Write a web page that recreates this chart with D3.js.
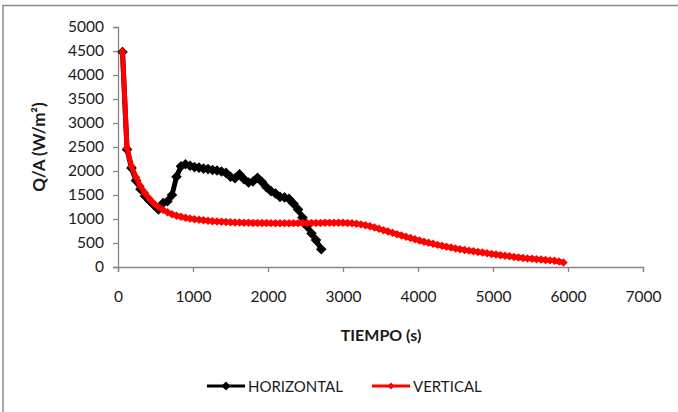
<!DOCTYPE html>
<html>
<head>
<meta charset="utf-8">
<script src="https://cdn.jsdelivr.net/npm/d3@7"></script>
<style>
  body { margin: 0; background: #fff; }
  svg text { font-family: Lato, "Open Sans", sans-serif; fill: #1a1a1a; }
</style>
</head>
<body>
<div id="chart"></div>
<script>
// HORIZONTAL series (time in s, Q/A in W/m2)
const timeH = [60, 120, 180, 240, 300, 360, 420, 480, 540, 600, 660, 720, 780, 840, 900, 960,
  1020, 1080, 1140, 1200, 1260, 1320, 1380, 1440, 1500, 1560, 1620, 1680, 1740, 1800, 1860,
  1920, 1980, 2040, 2100, 2160, 2220, 2280, 2340, 2400, 2460, 2520, 2580, 2640, 2710];
const qaH = [4480, 2450, 2060, 1800, 1620, 1480, 1380, 1290, 1200, 1330, 1370, 1500, 1880, 2100,
  2140, 2110, 2080, 2070, 2050, 2040, 2020, 2010, 1990, 1960, 1880, 1850, 1930, 1830, 1760, 1780,
  1860, 1770, 1660, 1580, 1530, 1460, 1450, 1420, 1320, 1200, 1030, 850, 700, 560, 370];

// VERTICAL series
const timeV = [60, 120, 180, 240, 300, 360, 420, 480, 540, 600, 660, 720, 780, 840, 900, 960,
  1020, 1080, 1140, 1200, 1260, 1320, 1380, 1440, 1500, 1560, 1620, 1680, 1740, 1800, 1860,
  1920, 1980, 2040, 2100, 2160, 2220, 2280, 2340, 2400, 2460, 2520, 2580, 2640, 2700, 2760,
  2820, 2880, 2940, 3000, 3060, 3120, 3180, 3240, 3300, 3360, 3420, 3480, 3540, 3600, 3660,
  3720, 3780, 3840, 3900, 3960, 4020, 4080, 4140, 4200, 4260, 4320, 4380, 4440, 4500, 4560,
  4620, 4680, 4740, 4800, 4860, 4920, 4980, 5040, 5100, 5160, 5220, 5280, 5340, 5400, 5460,
  5520, 5580, 5640, 5700, 5760, 5820, 5880, 5940];
const qaV = [4480, 2480, 2100, 1870, 1680, 1540, 1420, 1320, 1250, 1190, 1140, 1100, 1070, 1045,
  1025, 1008, 995, 983, 972, 963, 955, 948, 942, 937, 933, 929, 926, 923, 921, 919, 917,
  916, 915, 914, 913, 913, 913, 913, 914, 914, 915, 916, 917, 918, 919, 920,
  921, 922, 922, 921, 918, 912, 902, 888, 870, 848, 823, 796, 768, 740, 712,
  684, 656, 629, 602, 576, 551, 527, 504, 482, 461, 441, 422, 404, 387, 371,
  356, 341, 327, 314, 301, 288, 272, 259, 246, 234, 222, 210, 198, 188, 178,
  170, 162, 154, 146, 138, 128, 115, 95];

const yTicks = d3.range(0, 5001, 500);
const xTicks = d3.range(0, 7001, 1000);

const width = 678, height = 412;
const svg = d3.select("#chart").append("svg")
  .attr("width", width)
  .attr("height", height);

svg.append("rect")
  .attr("x", 3).attr("y", 5.5)
  .attr("width", 720).attr("height", 480)
  .attr("fill", "#fff")
  .attr("stroke", "#8c8c8c")
  .attr("stroke-width", 1.5);

const x = d3.scaleLinear().domain([0, 7000]).range([118, 643]);
const y = d3.scaleLinear().domain([0, 5000]).range([267, 27]);

const axisColor = "#868686";

const gy = svg.append("g")
  .attr("transform", `translate(${x(0)},0)`)
  .call(d3.axisLeft(y).tickValues(yTicks).tickSize(5).tickPadding(9).tickFormat(d3.format("d")));
const gx = svg.append("g")
  .attr("transform", `translate(0,${y(0)})`)
  .call(d3.axisBottom(x).tickValues(xTicks).tickSize(5).tickPadding(19).tickFormat(d3.format("d")));

[gy, gx].forEach(g => {
  g.select(".domain").attr("stroke", axisColor).attr("stroke-width", 1.3);
  g.selectAll(".tick line").attr("stroke", axisColor).attr("stroke-width", 1.3);
  g.selectAll(".tick text").style("font-size", "15.5px").attr("fill", "#1a1a1a");
});

// axis titles
svg.append("text")
  .attr("transform", `translate(45,${(y(0) + y(5000)) / 2}) rotate(-90)`)
  .attr("text-anchor", "middle")
  .style("font-size", "17px").style("font-weight", "bold")
  .text("Q/A (W/m²)");

svg.append("text")
  .attr("x", 381).attr("y", 341)
  .attr("text-anchor", "middle")
  .style("font-size", "16px").style("font-weight", "bold")
  .text("TIEMPO (s)");

const diamond = (s) => d3.symbol(d3.symbolSquare, s * s)();

function drawSeries(times, vals, color, lw, ms) {
  const pts = times.map((t, i) => [t, vals[i]]);
  const line = d3.line().x(d => x(d[0])).y(d => y(d[1]));
  svg.append("path")
    .datum(pts)
    .attr("d", line)
    .attr("fill", "none")
    .attr("stroke", color)
    .attr("stroke-width", lw)
    .attr("stroke-linejoin", "round");
  svg.append("g").selectAll("path")
    .data(pts)
    .join("path")
    .attr("d", diamond(ms))
    .attr("transform", d => `translate(${x(d[0])},${y(d[1])}) rotate(45)`)
    .attr("fill", color);
}

drawSeries(timeH, qaH, "#000", 5, 7.5);
drawSeries(timeV, qaV, "#ff0000", 5, 6);

// legend
const legend = [
  { name: "HORIZONTAL", color: "#000", x0: 207, ms: 6.5 },
  { name: "VERTICAL", color: "#ff0000", x0: 372, ms: 5 }
];
const ly = 386;
legend.forEach(l => {
  svg.append("line")
    .attr("x1", l.x0).attr("x2", l.x0 + 38)
    .attr("y1", ly).attr("y2", ly)
    .attr("stroke", l.color).attr("stroke-width", 3);
  svg.append("path")
    .attr("d", diamond(l.ms))
    .attr("transform", `translate(${l.x0 + 19},${ly}) rotate(45)`)
    .attr("fill", l.color);
  svg.append("text")
    .attr("x", l.x0 + 41).attr("y", ly + 5.5)
    .style("font-size", "15px")
    .text(l.name);
});
</script>
</body>
</html>
